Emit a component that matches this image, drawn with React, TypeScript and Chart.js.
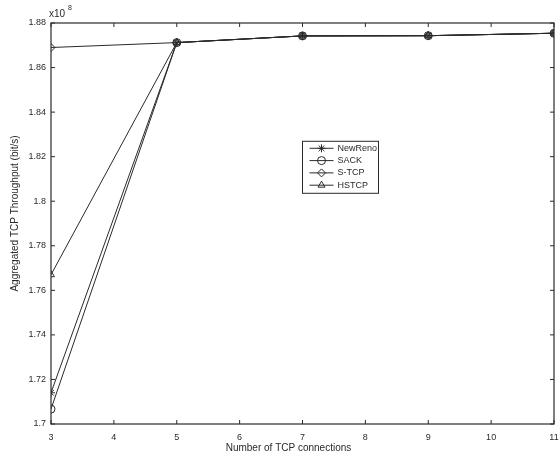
import React, { useEffect, useRef } from "react";
import { Chart, registerables } from "chart.js";
import { drawPoint } from "chart.js/helpers";

Chart.register(...registerables);

const connections = [3, 5, 7, 9, 11];
const newRenoValues = [1.714, 1.8712, 1.8742, 1.8743, 1.8754];
const sackValues = [1.7067, 1.8712, 1.8742, 1.8743, 1.8754];
const sTcpValues = [1.869, 1.8712, 1.8742, 1.8743, 1.8754];
const hstcpValues = [1.767, 1.8712, 1.8742, 1.8743, 1.8754];
const seriesLabels = ["NewReno", "SACK", "S-TCP", "HSTCP"];
const seriesMarkers = ["star", "circle", "rectRot", "triangle"];
const xTitle = "Number of TCP connections";
const yTitle = "Aggregated TCP Throughput (bit/s)";
const yMin = 1.7;
const yMax = 1.88;
const yStep = 0.02;
const xMin = 3;
const xMax = 11;

const FONT = "'Liberation Sans', Arial, sans-serif";
const INK = "#2a2a2a";

const framePlugin = {
  id: "matlabFrame",
  afterDraw(chart: any) {
    const { ctx, chartArea: ca, scales } = chart;
    const xs = scales.x;
    const ys = scales.y;
    ctx.save();
    // frame
    ctx.strokeStyle = INK;
    ctx.lineWidth = 1.2;
    ctx.strokeRect(ca.left, ca.top, ca.right - ca.left, ca.bottom - ca.top);
    // inward ticks
    const tl = 4;
    ctx.lineWidth = 1;
    ctx.beginPath();
    xs.ticks.forEach((t: any) => {
      const px = xs.getPixelForValue(t.value);
      ctx.moveTo(px, ca.bottom);
      ctx.lineTo(px, ca.bottom - tl);
      ctx.moveTo(px, ca.top);
      ctx.lineTo(px, ca.top + tl);
    });
    ys.ticks.forEach((t: any) => {
      const py = ys.getPixelForValue(t.value);
      ctx.moveTo(ca.left, py);
      ctx.lineTo(ca.left + tl, py);
      ctx.moveTo(ca.right, py);
      ctx.lineTo(ca.right - tl, py);
    });
    ctx.stroke();

    // exponent label
    ctx.fillStyle = INK;
    ctx.font = `10px ${FONT}`;
    ctx.textAlign = "left";
    ctx.textBaseline = "alphabetic";
    ctx.fillText("x10", ca.left - 2, ca.top - 6);
    ctx.font = `7px ${FONT}`;
    ctx.fillText("8", ca.left + 17, ca.top - 13);

    // axis titles
    ctx.font = `10px ${FONT}`;
    ctx.textAlign = "center";
    ctx.textBaseline = "middle";
    ctx.fillText(xTitle, (ca.left + ca.right) / 2 - 14, ca.bottom + 24);
    ctx.save();
    ctx.translate(ca.left - 36, (ca.top + ca.bottom) / 2 - 10);
    ctx.rotate(-Math.PI / 2);
    ctx.fillText(yTitle, 0, 0);
    ctx.restore();

    // legend
    const w = ca.right - ca.left;
    const h = ca.bottom - ca.top;
    const lx = ca.left + 0.5 * w;
    const ly = ca.top + 0.295 * h;
    const lw = 76;
    const lh = 52;
    ctx.fillStyle = "#ffffff";
    ctx.fillRect(lx, ly, lw, lh);
    ctx.strokeStyle = INK;
    ctx.lineWidth = 1;
    ctx.strokeRect(lx, ly, lw, lh);
    chart.data.datasets.forEach((ds: any, i: number) => {
      const cy = ly + 7 + i * 12.3;
      ctx.strokeStyle = ds.borderColor;
      ctx.lineWidth = ds.borderWidth;
      ctx.beginPath();
      ctx.moveTo(lx + 7, cy);
      ctx.lineTo(lx + 31, cy);
      ctx.stroke();
      ctx.fillStyle = "rgba(0,0,0,0)";
      ctx.strokeStyle = ds.pointBorderColor;
      ctx.lineWidth = 1;
      drawPoint(
        ctx,
        {
          pointStyle: ds.pointStyle,
          radius: ds.pointRadius,
          rotation: 0,
          borderWidth: 1,
        } as any,
        lx + 19,
        cy
      );
      ctx.fillStyle = INK;
      ctx.font = `9px ${FONT}`;
      ctx.textAlign = "left";
      ctx.textBaseline = "middle";
      ctx.fillText(ds.label, lx + 35, cy);
    });
    ctx.restore();
  },
};

export default function App() {
  const ref = useRef<HTMLCanvasElement | null>(null);
  useEffect(() => {
    document.body.style.margin = "0";
    const series = [newRenoValues, sackValues, sTcpValues, hstcpValues];
    const chart = new Chart(ref.current as HTMLCanvasElement, {
      type: "line",
      data: {
        datasets: series.map((vals, i) => ({
          label: seriesLabels[i],
          data: connections.map((c, j) => ({ x: c, y: vals[j] })),
          borderColor: INK,
          backgroundColor: "rgba(0,0,0,0)",
          borderWidth: 1,
          pointStyle: seriesMarkers[i] as any,
          pointRadius: 4,
          pointBorderColor: INK,
          pointBackgroundColor: "rgba(0,0,0,0)",
          pointBorderWidth: 1,
          tension: 0,
        })),
      },
      options: {
        responsive: false,
        animation: false,
        layout: { padding: { top: 23, right: 5, left: 0, bottom: 0 } },
        plugins: { legend: { display: false }, tooltip: { enabled: false } },
        scales: {
          x: {
            type: "linear",
            min: xMin,
            max: xMax,
            ticks: {
              stepSize: 1,
              padding: 8,
              color: INK,
              font: { family: FONT, size: 9 },
              maxRotation: 0,
            },
            grid: { display: false, drawTicks: false },
            border: { display: false },
            afterFit: (s: any) => {
              s.height = 37;
              s.paddingLeft = 0;
              s.paddingRight = 0;
            },
          },
          y: {
            type: "linear",
            min: yMin,
            max: yMax,
            ticks: {
              stepSize: yStep,
              padding: 5,
              color: INK,
              font: { family: FONT, size: 9 },
              callback: (v: any) => String(Number(Number(v).toFixed(2))),
            },
            grid: { display: false, drawTicks: false },
            border: { display: false },
            afterFit: (s: any) => {
              s.width = 51;
              s.paddingTop = 0;
              s.paddingBottom = 0;
            },
          },
        },
      },
      plugins: [framePlugin],
    });
    return () => chart.destroy();
  }, []);
  return (
    <div style={{ width: 559, height: 461, background: "#fff" }}>
      <canvas ref={ref} width={559} height={461} style={{ display: "block" }} />
    </div>
  );
}
